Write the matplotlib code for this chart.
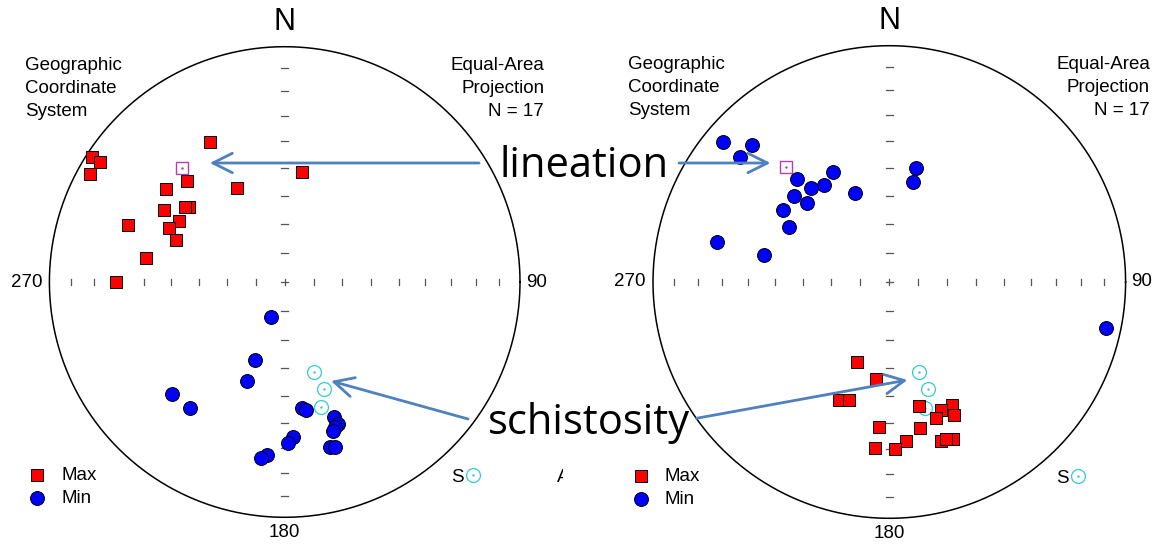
import numpy as np
import matplotlib
matplotlib.use('Agg')
import matplotlib.pyplot as plt
from matplotlib.transforms import Bbox

plt.rcParams['font.family'] = ['Liberation Sans', 'DejaVu Sans']

W, H = 1152, 544

# ---- data: trend / plunge (degrees), lower hemisphere ----
# left net
left_max_trend = [332, 303, 303, 299, 9, 316, 333, 308, 308, 307, 301, 300, 290, 295, 291, 280, 270]
left_max_plunge = [33, 2.5, 7, 6, 51, 40, 53, 36, 47, 46, 40, 47, 30, 45, 49, 40, 29]
left_min_trend = [202, 201, 201, 225, 217, 172, 170.5, 160, 159.5, 161, 162, 177, 179, 164.6, 163, 186, 187.5]
left_min_plunge = [77, 61, 53, 33, 33.5, 45, 44, 39, 36, 35, 34, 34.5, 32, 28, 27.7, 27, 25.4]

# right net
right_max_trend = [202, 188, 203, 199, 166.5, 153, 158, 154, 161, 184, 168, 174, 162, 158, 160, 185, 178]
right_max_plunge = [60, 56, 45, 46, 45, 41, 41, 37.5, 39, 38.5, 37, 33, 30, 29, 30, 30, 30]
right_min_trend = [310, 315, 310, 13, 333, 318, 13.4, 326, 320, 339, 312, 314, 304, 299, 283, 282, 102]
right_min_plunge = [9, 19, 18.6, 49, 46.5, 41, 54, 49, 47, 57, 45, 50, 45, 50, 26, 45, 7]

# schistosity poles and lineation mean (same in both nets)
schist_trend = [162, 160, 164]
schist_plunge = [57, 50, 44]
lin_mean_trend = 318
lin_mean_plunge = 35

n_points = 17


def proj(trend, plunge):
    # Schmidt equal-area, lower hemisphere, unit radius
    t = np.radians(np.asarray(trend, dtype=float))
    p = np.radians(np.asarray(plunge, dtype=float))
    r = np.sqrt(2) * np.sin((np.pi / 2 - p) / 2)
    return r * np.sin(t), r * np.cos(t)


fig = plt.figure(figsize=(W / 100, H / 100), dpi=100)
K = 1.3


def make_net(cx, cy, R):
    ax = fig.add_axes([(cx - K * R) / W, (H - cy - K * R) / H, 2 * K * R / W, 2 * K * R / H])
    ax.set_xlim(-K, K)
    ax.set_ylim(-K, K)
    ax.axis('off')
    ax.patch.set_alpha(0)

    th = np.linspace(0, 2 * np.pi, 400)
    ax.plot(np.cos(th), np.sin(th), color='black', lw=1.1, zorder=2)

    # ticks every 10 degrees of plunge along the diameters
    tick_r = np.sqrt(2) * np.sin(np.radians(90 - np.arange(80, 0, -10)) / 2)
    for s in (-1, 1):
        for r in tick_r:
            ax.plot([s * r, s * r], [-0.011, 0.011], color='#555555', lw=0.9, zorder=1)
            ax.plot([-0.014, 0.014], [s * r, s * r], color='#555555', lw=0.9, zorder=1)
    ax.plot([-0.014, 0.014], [0, 0], color='#555555', lw=0.9)
    ax.plot([0, 0], [-0.014, 0.014], color='#555555', lw=0.9)

    fs = 13.5
    ax.text(0, 1.105, 'N', ha='center', va='center', fontsize=22)
    ax.text(-1.03, 0, '270', ha='right', va='center', fontsize=fs)
    ax.text(1.025, 0, '90', ha='left', va='center', fontsize=fs)
    ax.text(0, -1.066, '180', ha='center', va='center', fontsize=fs)
    ax.text(-1.104, 0.822, 'Geographic\nCoordinate\nSystem', ha='left', va='center',
            fontsize=fs, linespacing=1.47)
    ax.text(1.103, 0.822, 'Equal-Area\nProjection\nN = %d' % n_points, ha='right', va='center',
            fontsize=fs, linespacing=1.47, multialignment='right')

    # legend
    ax.plot(-1.052, -0.822, 's', ms=9, mfc='red', mec='black', mew=0.7)
    ax.plot(-1.052, -0.92, 'o', ms=10, mfc='blue', mec='black', mew=0.7)
    ax.text(-0.95, -0.822, 'Max', ha='left', va='center', fontsize=fs)
    ax.text(-0.95, -0.92, 'Min', ha='left', va='center', fontsize=fs)
    ax.text(0.708, -0.83, 'S', ha='left', va='center', fontsize=fs)
    ax.plot(0.80, -0.822, 'o', ms=10, mfc='none', mec='#33cccc', mew=0.9)
    ax.plot(0.80, -0.822, '.', ms=1.5, color='#33cccc')
    return ax


def draw_data(ax, max_t, max_p, min_t, min_p):
    x, y = proj(max_t, max_p)
    ax.plot(x, y, 's', ms=9, mfc='red', mec='black', mew=0.7, ls='none', zorder=4)
    x, y = proj(min_t, min_p)
    ax.plot(x, y, 'o', ms=10, mfc='blue', mec='black', mew=0.7, ls='none', zorder=4)
    x, y = proj(schist_trend, schist_plunge)
    ax.plot(x, y, 'o', ms=10, mfc='none', mec='#33cccc', mew=0.9, ls='none', zorder=3)
    ax.plot(x, y, '.', ms=1.5, color='#33cccc', ls='none', zorder=3)
    x, y = proj([lin_mean_trend], [lin_mean_plunge])
    ax.plot(x, y, 's', ms=8, mfc='white', mec='#b040b0', mew=1.0, zorder=5)
    ax.plot(x, y, '.', ms=1.5, color='#b040b0', zorder=5)


# left net draws first: the right picture is pasted over it
ax_l = make_net(284.7, 282, 235.3)
draw_data(ax_l, left_max_trend, left_max_plunge, left_min_trend, left_min_plunge)
t = ax_l.text(1.155, -0.83, 'A', ha='left', va='center', fontsize=13.5)
t.set_clip_on(True)
t.set_clip_path(None)
t.set_clip_box(Bbox.from_extents(0, 0, 562.5, H))

ax_r = make_net(889.3, 282, 236.3)
draw_data(ax_r, right_max_trend, right_max_plunge, right_min_trend, right_min_plunge)

# overlay for the callouts, in pixel coordinates
ov = fig.add_axes([0, 0, 1, 1])
ov.set_xlim(0, W)
ov.set_ylim(H, 0)
ov.axis('off')
ov.patch.set_alpha(0)

arrow_color = '#4f81bd'
aprops = dict(arrowstyle='->,head_length=0.7,head_width=0.35', color=arrow_color, lw=2,
              mutation_scale=20, shrinkA=0, shrinkB=0)
ov.annotate('', xy=(209.8, 163), xytext=(479, 163), arrowprops=aprops)
ov.annotate('', xy=(770.5, 163), xytext=(679, 163), arrowprops=aprops)
ov.annotate('', xy=(331, 381), xytext=(468, 419), arrowprops=aprops)
ov.annotate('', xy=(907.4, 380), xytext=(696.5, 418.3), arrowprops=aprops)

ov.text(584, 176.7, 'lineation', ha='center', va='baseline', fontsize=30,
        family=['Open Sans', 'DejaVu Sans'])
ov.text(588.5, 434, 'schistosity', ha='center', va='baseline', fontsize=30,
        family=['Open Sans', 'DejaVu Sans'])

fig.savefig('out.png', dpi=100)
